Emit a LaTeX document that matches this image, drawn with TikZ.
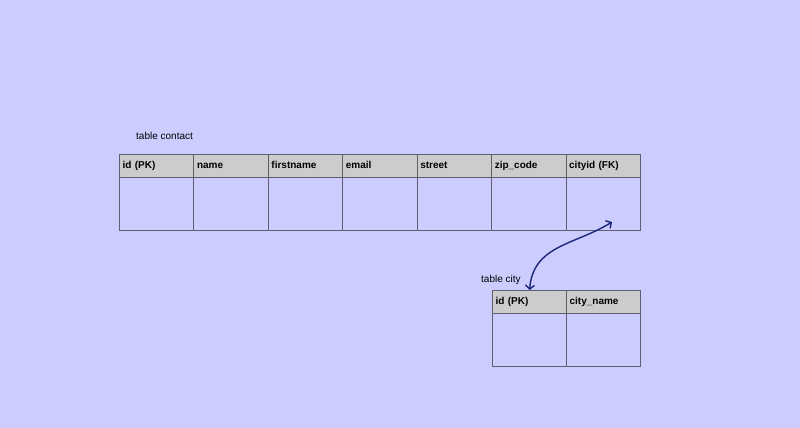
\documentclass[tikz,border=0pt]{standalone}
\usepackage{fontspec}
\setmainfont{Liberation Sans}
\usetikzlibrary{arrows.meta}
\definecolor{bgcolor}{RGB}{204,204,255}
\definecolor{headcolor}{RGB}{204,204,204}
\definecolor{gridcolor}{RGB}{95,95,110}
\definecolor{linkcolor}{RGB}{28,38,122}

\begin{document}
\begin{tikzpicture}[x=1pt,y=-1pt,
    headcell/.style={draw=gridcolor,fill=headcolor,line width=0.8pt,anchor=north west,
      minimum width=74.4pt,minimum height=23pt,text width=68pt,inner xsep=3.2pt,
      text height=7.4pt,text depth=2.2pt,
      align=left,font=\bfseries\fontsize{10}{12}\selectfont},
    bodycell/.style={draw=gridcolor,line width=0.8pt,anchor=north west,
      minimum width=74.4pt,minimum height=53pt,inner sep=0pt},
    tablename/.style={anchor=west,inner sep=0pt,font=\fontsize{10}{12}\selectfont},
    linkarrow/.style={draw=linkcolor,line width=1.4pt,
      {Straight Barb[length=4pt,width=9pt]}-{Straight Barb[length=4pt,width=9pt]}}]
        % Background
        \fill[bgcolor] (0,0) rectangle (800,428);
        \useasboundingbox (0,0) rectangle (800,428);
        % Table contact
        \node[tablename] (contact-title) at (136,136) {table contact};
        \foreach \i/\col/\txt in {0/id/{id (PK)},1/name/name,2/firstname/firstname,3/email/email,
            4/street/street,5/zip/{zip\_code},6/cityid/{cityid (FK)}} {
            \node[bodycell] (contact-\col-body) at ({119+74.43*\i},177) {};
            \node[headcell] (contact-\col) at ({119+74.43*\i},154) {\txt};
        }
        % Table city
        \node[tablename] (city-title) at (481,280) {table city};
        \foreach \i/\col/\txt in {0/id/{id (PK)},1/name/{city\_name}} {
            \node[bodycell] (city-\col-body) at ({492+74*\i},313) {};
            \node[headcell] (city-\col) at ({492+74*\i},290) {\txt};
        }
        % Foreign key link
        \coordinate (fk-end) at (612,222);
        \draw[linkarrow] (fk-end) .. controls (575,245) and (533,245) .. (city-id.north);
\end{tikzpicture}
\end{document}
